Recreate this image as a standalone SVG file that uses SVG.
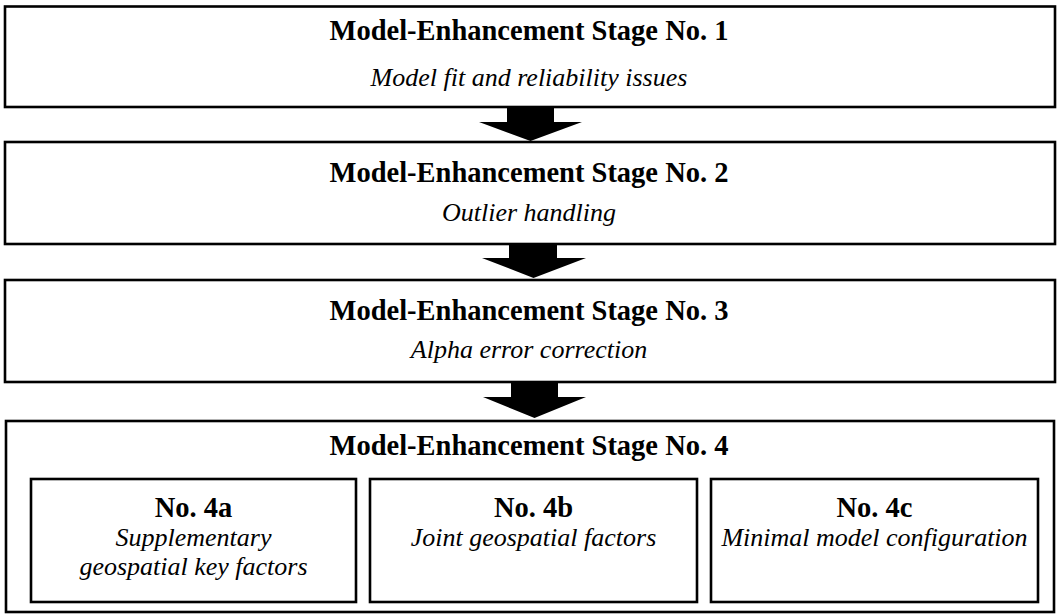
<svg xmlns="http://www.w3.org/2000/svg" width="1060" height="614" viewBox="0 0 1060 614">
<style>
.box{fill:#fff;stroke:#000;stroke-width:2.6}
.inner{fill:#fff;stroke:#000;stroke-width:2.6}
.t{font-family:"Liberation Serif","Times New Roman",serif;font-weight:bold;font-size:28.5px;text-anchor:middle;fill:#000}
.s{font-family:"Liberation Serif","Times New Roman",serif;font-style:italic;font-size:26px;text-anchor:middle;fill:#000}
.arrow{fill:#000;stroke:none}
</style>
<rect width="1060" height="614" fill="#fff"/>
<g id="connectors">
<polygon class="arrow" points="507,107 554,107 554,122 582,122 530.5,141 479,122 507,122"/>
<polygon class="arrow" points="509,244 557,244 557,258 586,258 533.5,278 482,258 509,258"/>
<polygon class="arrow" points="511,382 558,382 558,397 586,397 534.5,418 483,397 511,397"/>
</g>
<g id="stage1">
<rect class="box" x="5" y="6.5" width="1050" height="100.5"/>
<text class="t" x="529" y="40">Model-Enhancement Stage No. 1</text>
<text class="s" x="529" y="86">Model fit and reliability issues</text>
</g>
<g id="stage2">
<rect class="box" x="5" y="142" width="1050" height="102"/>
<text class="t" x="529" y="182">Model-Enhancement Stage No. 2</text>
<text class="s" x="529" y="221">Outlier handling</text>
</g>
<g id="stage3">
<rect class="box" x="5" y="280" width="1050" height="102"/>
<text class="t" x="529" y="320">Model-Enhancement Stage No. 3</text>
<text class="s" x="529" y="358">Alpha error correction</text>
</g>
<g id="stage4">
<rect class="box" x="6" y="421" width="1048" height="191"/>
<text class="t" x="529" y="455">Model-Enhancement Stage No. 4</text>
</g>
<g id="stage4a">
<rect class="inner" x="31" y="479" width="325" height="123"/>
<text class="t" x="193.5" y="517">No. 4a</text>
<text class="s" x="193.5" y="546">Supplementary</text>
<text class="s" x="193.5" y="575">geospatial key factors</text>
</g>
<g id="stage4b">
<rect class="inner" x="370" y="479" width="327" height="123"/>
<text class="t" x="533.5" y="517">No. 4b</text>
<text class="s" x="533.5" y="546">Joint geospatial factors</text>
</g>
<g id="stage4c">
<rect class="inner" x="711" y="479" width="327" height="123"/>
<text class="t" x="874.5" y="517">No. 4c</text>
<text class="s" x="874.5" y="546">Minimal model configuration</text>
</g>
</svg>
